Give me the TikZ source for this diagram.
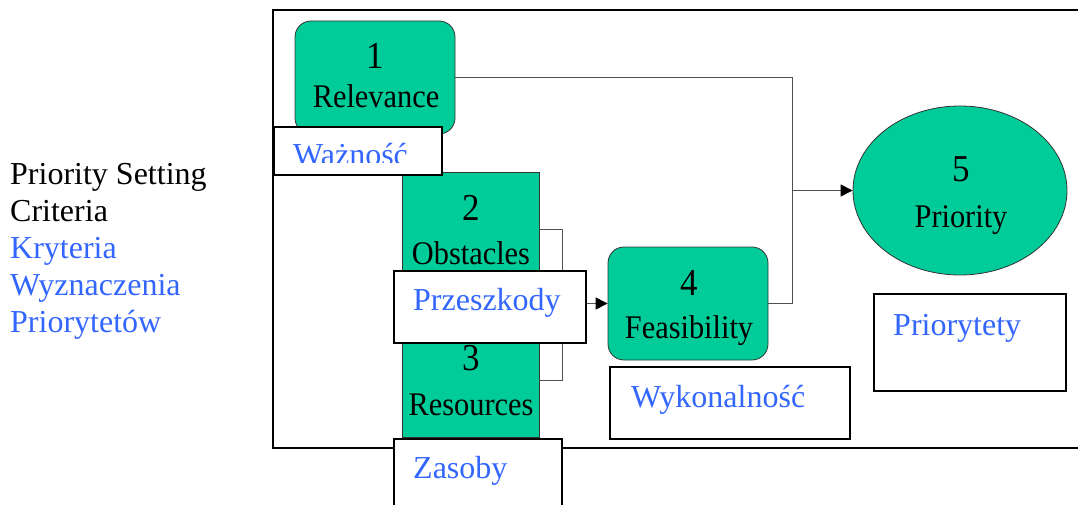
\documentclass[tikz,border=0pt]{standalone}
\usepackage{fontspec}
\setmainfont{Liberation Serif}
\newfontfamily\boxfont[FakeStretch=0.92]{Liberation Serif}
\usetikzlibrary{shapes.geometric,arrows.meta}
\definecolor{boxgreen}{HTML}{00CC99}
\definecolor{labelblue}{HTML}{3366FF}
\definecolor{linkgray}{HTML}{505050}
\tikzset{
  frame/.style={draw=black,line width=2.2pt},
  greenbox/.style={draw=black!80,line width=0.8pt,fill=boxgreen,inner sep=0pt},
  roundbox/.style={greenbox,rounded corners=16pt},
  labelbox/.style={draw=black,line width=2.2pt,fill=white,inner sep=0pt,anchor=north west},
  numtext/.style={inner sep=0pt,anchor=base,font=\boxfont\fontsize{38}{40}\selectfont},
  wordtext/.style={inner sep=0pt,anchor=base,font=\boxfont\fontsize{33}{35}\selectfont},
  bluetext/.style={inner sep=0pt,anchor=base west,text=labelblue,font=\fontsize{32}{37}\selectfont},
  sidetext/.style={inner sep=0pt,anchor=base west,font=\fontsize{32}{37}\selectfont},
  conn/.style={draw=linkgray,line width=1pt},
  arr/.style={conn,-{Triangle[length=12pt,width=12pt,color=black]}}
}
\begin{document}
\begin{tikzpicture}[x=1pt,y=-1pt]
\useasboundingbox (0,0) rectangle (1078,505);
\clip (0,0) rectangle (1078,505);

% side caption
\node[sidetext] (crit1) at (10,185) {Priority Setting};
\node[sidetext] (crit2) at (10,222) {Criteria};
\node[sidetext,text=labelblue] (crit3) at (10,258) {Kryteria};
\node[sidetext,text=labelblue] (crit4) at (10,295) {Wyznaczenia};
\node[sidetext,text=labelblue] (crit5) at (10,332) {Priorytetów};

% outer frame, open to the right
\draw[frame] (1090,10) -- (273,10) -- (273,448) -- (1090,448);

% criteria boxes
\node[roundbox,minimum width=160pt,minimum height=113pt] (rel) at (375,77.5) {};
\node[greenbox,minimum width=137pt,minimum height=114pt] (obst) at (470.5,229) {};
\node[greenbox,minimum width=137pt,minimum height=114pt] (res) at (470.5,380) {};
\node[roundbox,minimum width=160pt,minimum height=113pt] (feas) at (688,303.5) {};
\node[greenbox,ellipse,minimum width=214pt,minimum height=169pt] (prio) at (960,190.5) {};

% joints of the connectors
\coordinate (merge) at (562,303.5);
\coordinate (join) at (792,190.5);

\draw[conn] (obst.east) -| (merge);
\draw[conn] (res.east) -| (merge);
\draw[arr] (merge) -- (feas.west);
\draw[conn] (rel.east) -| (join);
\draw[conn] (feas.east) -| (join);
\draw[arr] (join) -- (prio.west);

% box texts
\node[numtext] (n1) at (375,69) {1};
\node[wordtext] (w1) at (376,108) {Relevance};
\node[numtext] (n2) at (471,220) {2};
\node[wordtext] (w2) at (471,264) {Obstacles};
\node[numtext] (n3) at (471,370) {3};
\node[wordtext] (w3) at (471,415) {Resources};
\node[numtext] (n4) at (689,295) {4};
\node[wordtext] (w4) at (689,338) {Feasibility};
\node[numtext] (n5) at (961,182) {5};
\node[wordtext] (w5) at (961,227) {Priority};

% Polish labels
\node[labelbox,minimum width=168pt,minimum height=48pt] (lwaz) at (273,126) {};
\begin{scope}
  \clip (273,126) rectangle (441,163);
  \node[bluetext] (twaz) at (293,166) {Ważność};
\end{scope}
\node[labelbox,minimum width=192pt,minimum height=72pt] (lprz) at (393,270) {};
\node[bluetext] (tprz) at (413,310) {Przeszkody};
\node[labelbox,minimum width=240pt,minimum height=72pt] (lwyk) at (609,366) {};
\node[bluetext] (twyk) at (631,407) {Wykonalność};
\node[labelbox,minimum width=168pt,minimum height=80pt] (lzas) at (393,438) {};
\node[bluetext] (tzas) at (413,478) {Zasoby};
\node[labelbox,minimum width=192pt,minimum height=97pt] (lpri) at (873,293) {};
\node[bluetext] (tpri) at (893,335) {Priorytety};
\end{tikzpicture}
\end{document}
